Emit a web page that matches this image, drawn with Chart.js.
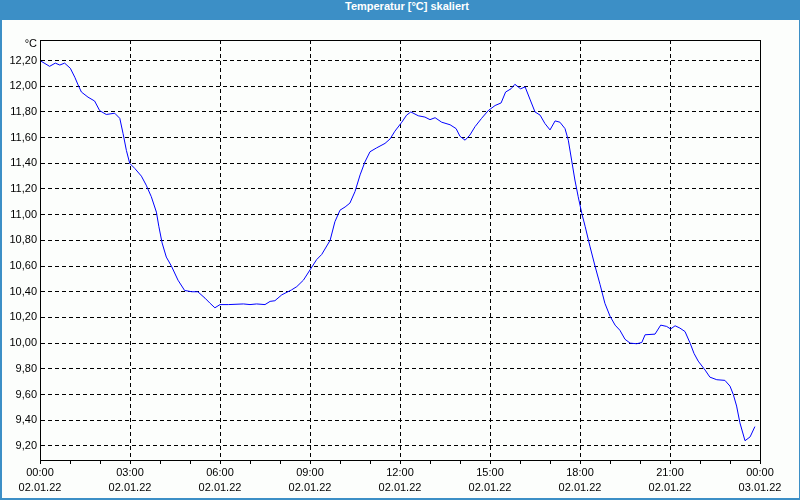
<!DOCTYPE html>
<html>
<head>
<meta charset="utf-8">
<script src="https://cdn.jsdelivr.net/npm/chart.js@4"></script>
<style>
  html, body { margin: 0; padding: 0; background: #fcfefc; }
  #wrap { position: relative; width: 800px; height: 500px; overflow: hidden; background: #fcfefc; }
  #title { position: absolute; left: 0; top: 0; width: 800px; height: 20px; line-height: 19px;
           background: #3c8fc6; color: #fff; font: bold 11px "Liberation Sans", Arial, sans-serif;
           text-align: center; box-sizing: border-box; padding-left: 14px; }
  #frame { position: absolute; left: 0; top: 0; width: 797px; height: 498px;
           border-left: 2px solid #3c8fc6; border-right: 1px solid #3c8fc6; border-bottom: 2px solid #3c8fc6;
           pointer-events: none; }
  canvas { position: absolute; left: 0; top: 0; }
</style>
</head>
<body>
<div id="wrap">
  <canvas id="c" width="800" height="500"></canvas>
  <div id="title">Temperatur [°C] skaliert</div>
  <div id="frame"></div>
</div>
<script>
// Time of day in hours (0 = 02.01.22 00:00)
const hours = [
  0.00, 0.32, 0.51, 0.66, 0.82, 1.01, 1.16, 1.27, 1.38, 1.60, 1.82, 1.99, 2.21, 2.49, 2.66, 2.77, 2.88, 2.99,
  3.16, 3.38, 3.54, 3.71, 3.88, 3.96, 4.07, 4.21, 4.38, 4.60, 4.82, 5.06, 5.26, 5.50, 5.67, 5.83,
  6.00, 6.28, 6.78, 7.00, 7.22, 7.50, 7.67, 7.83, 8.06, 8.39, 8.56, 8.78,
  9.00, 9.22, 9.39, 9.67, 9.83, 10.00, 10.17, 10.33, 10.50, 10.67, 10.83, 11.00, 11.22, 11.50, 11.67, 11.83,
  12.06, 12.22, 12.36, 12.61, 12.83, 13.00, 13.17, 13.39, 13.67, 13.87, 14.00, 14.17, 14.33, 14.50, 14.72, 14.94,
  15.17, 15.37, 15.52, 15.70, 15.83, 16.02, 16.17, 16.33, 16.50, 16.67, 16.83, 17.00, 17.17, 17.33, 17.50, 17.61, 17.72, 17.83, 17.94,
  18.06, 18.17, 18.33, 18.50, 18.67, 18.83, 19.00, 19.17, 19.33, 19.50, 19.67, 19.89, 20.06, 20.17, 20.50, 20.69, 20.89,
  21.02, 21.17, 21.33, 21.50, 21.67, 21.80, 21.94, 22.17, 22.33, 22.56, 22.83, 23.00, 23.11, 23.22, 23.33, 23.50, 23.67, 23.83
];
const temps = [
  12.20, 12.155, 12.18, 12.165, 12.18, 12.14, 12.07, 12.01, 11.955, 11.915, 11.885, 11.81, 11.78, 11.79, 11.75, 11.63, 11.50, 11.40,
  11.36, 11.30, 11.23, 11.14, 11.02, 10.91, 10.78, 10.67, 10.60, 10.49, 10.41, 10.40, 10.40, 10.35, 10.31, 10.275,
  10.30, 10.30, 10.305, 10.30, 10.305, 10.30, 10.325, 10.33, 10.376, 10.415, 10.44, 10.49,
  10.57, 10.65, 10.69, 10.80, 10.945, 11.035, 11.06, 11.09, 11.18, 11.31, 11.41, 11.49, 11.52, 11.555, 11.59, 11.65,
  11.72, 11.775, 11.80, 11.77, 11.76, 11.74, 11.755, 11.72, 11.70, 11.67, 11.61, 11.58, 11.62, 11.685, 11.75, 11.81,
  11.85, 11.87, 11.955, 11.98, 12.015, 11.98, 11.995, 11.90, 11.80, 11.775, 11.71, 11.66, 11.73, 11.72, 11.67, 11.58, 11.425, 11.27, 11.14,
  11.01, 10.91, 10.755, 10.60, 10.455, 10.31, 10.21, 10.14, 10.10, 10.03, 10.00, 9.995, 10.005, 10.065, 10.07, 10.14, 10.13,
  10.11, 10.135, 10.117, 10.09, 10.00, 9.92, 9.86, 9.79, 9.735, 9.715, 9.71, 9.665, 9.60, 9.51, 9.38, 9.24, 9.27, 9.35
];
const yTicks = [9.2, 9.4, 9.6, 9.8, 10.0, 10.2, 10.4, 10.6, 10.8, 11.0, 11.2, 11.4, 11.6, 11.8, 12.0, 12.2];
const xLabelHours = [0, 3, 6, 9, 12, 15, 18, 21, 24];
const xTimeLabels = ["00:00", "03:00", "06:00", "09:00", "12:00", "15:00", "18:00", "21:00", "00:00"];
const xDateLabels = ["02.01.22", "02.01.22", "02.01.22", "02.01.22", "02.01.22", "02.01.22", "02.01.22", "02.01.22", "03.01.22"];
const unitLabel = "°C";

const FONT = { family: '"Liberation Sans", Arial, sans-serif', size: 11 };

const borderPlugin = {
  id: 'boxAndUnit',
  afterDraw(chart) {
    const { ctx, chartArea: a } = chart;
    ctx.save();
    ctx.strokeStyle = '#000';
    ctx.lineWidth = 1;
    ctx.setLineDash([]);
    ctx.strokeRect(Math.round(a.left) + 0.5, Math.round(a.top) + 0.5,
                   Math.round(a.right - a.left), Math.round(a.bottom - a.top));
    ctx.fillStyle = '#000';
    ctx.font = '11px "Liberation Sans", Arial, sans-serif';
    ctx.textAlign = 'right';
    ctx.textBaseline = 'middle';
    ctx.fillText(unitLabel, a.left - 3, a.top + 4);
    ctx.restore();
  }
};

new Chart(document.getElementById('c'), {
  type: 'line',
  data: {
    datasets: [{
      data: hours.map((h, i) => ({ x: h, y: temps[i] })),
      borderColor: '#0000ff',
      borderWidth: 1,
      pointRadius: 0,
      tension: 0,
      fill: false
    }]
  },
  options: {
    responsive: false,
    animation: false,
    devicePixelRatio: 1,
    layout: { padding: { left: 0, right: 40, top: 40, bottom: 0 } },
    plugins: { legend: { display: false }, tooltip: { enabled: false }, title: { display: false } },
    scales: {
      x: {
        type: 'linear',
        min: 0, max: 24,
        afterFit(scale) { scale.height = 40; },
        afterBuildTicks(scale) {
          const t = [];
          for (let h = 0; h <= 24; h++) t.push({ value: h });
          scale.ticks = t;
        },
        ticks: {
          autoSkip: false,
          maxRotation: 0,
          padding: 2,
          color: '#000',
          font: { ...FONT, lineHeight: 1.35 },
          callback(v) {
            const i = xLabelHours.indexOf(v);
            return i >= 0 ? [xTimeLabels[i], xDateLabels[i]] : '';
          }
        },
        grid: {
          color(ctx) {
            const v = ctx.tick && ctx.tick.value;
            return (v % 3 === 0 && v !== 0 && v !== 24) ? '#000' : 'rgba(0,0,0,0)';
          },
          tickColor: '#000',
          tickBorderDash: [],
          tickLength: 4,
          drawTicks: true
        },
        border: { display: true, color: '#000', width: 1, dash: [4, 3] }
      },
      y: {
        type: 'linear',
        min: 9.09, max: 12.36,
        afterFit(scale) { scale.width = 40; },
        afterBuildTicks(scale) { scale.ticks = yTicks.map(v => ({ value: v })); },
        ticks: {
          padding: 3,
          color: '#000',
          font: FONT,
          callback(v) { return v.toFixed(2).replace('.', ','); }
        },
        grid: {
          color: '#000',
          drawTicks: false
        },
        border: { display: true, color: '#000', width: 1, dash: [4, 3] }
      }
    }
  },
  plugins: [borderPlugin]
});
</script>
</body>
</html>
